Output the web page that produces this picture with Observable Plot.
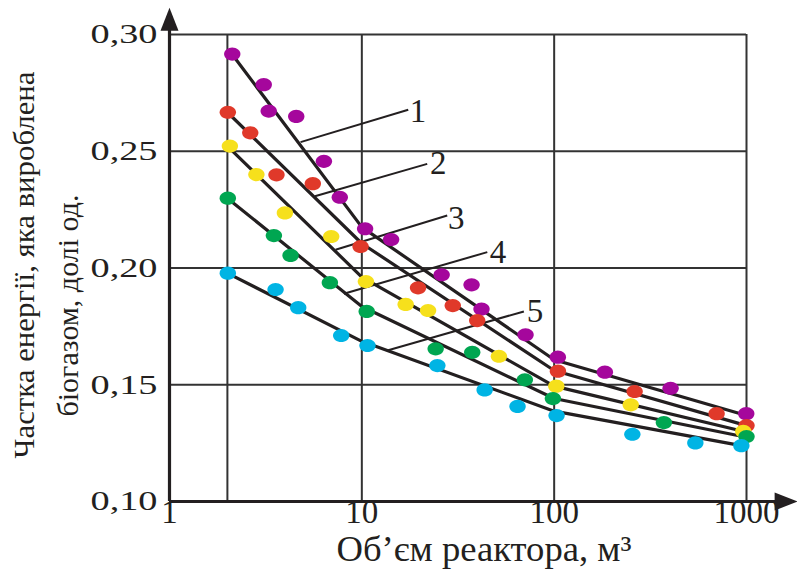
<!DOCTYPE html>
<html><head><meta charset="utf-8">
<script src="https://cdn.jsdelivr.net/npm/d3@7"></script>
<script src="https://cdn.jsdelivr.net/npm/@observablehq/plot@0.6"></script>
<style>body{margin:0;background:#fff}</style>
</head><body><div id="chart"></div>
<script>
// ---- data ----
const seriesNames = ["1","2","3","4","5"];
const seriesColors = ["#a5079c","#e0392a","#f6e01c","#00a651","#00b4e4"];

const s1x = [2.12,3.09,3.28,4.56,6.35,7.68,10.4,14.2,26.0,37.2,41.9,71.0,104.5,183.5,403,997];
const s1y = [0.2916,0.2785,0.2672,0.2649,0.2457,0.2303,0.2168,0.2122,0.1971,0.1928,0.1824,0.1714,0.1618,0.1554,0.1485,0.1376];
const s2x = [2.01,2.63,3.60,5.56,9.85,19.6,29.7,39.8,104.6,262,699,1000];
const s2y = [0.2667,0.2579,0.2399,0.2361,0.2092,0.1915,0.1839,0.1775,0.1558,0.1471,0.1376,0.1325];
const s3x = [2.06,2.83,3.98,6.93,10.5,16.9,22.1,51.6,102.6,250,962];
const s3y = [0.2522,0.2400,0.2236,0.2135,0.1942,0.1844,0.1818,0.1622,0.1494,0.1414,0.1300];
const s4x = [2.01,3.49,4.26,6.82,10.6,24.2,37.5,70.4,98.5,372,1000];
const s4y = [0.2299,0.2139,0.2054,0.1937,0.1814,0.1654,0.1639,0.1521,0.1441,0.1338,0.1278];
const s5x = [2.01,3.56,4.67,7.81,10.7,24.7,43.5,64.5,102.9,255,542,940];
const s5y = [0.1978,0.1908,0.1830,0.1711,0.1668,0.1582,0.1478,0.1407,0.1368,0.1288,0.1251,0.1239];

// fitted broken lines (vertices)
const f1x = [2.12,10,100,1000], f1y = [0.2914,0.2175,0.1607,0.1368];
const f2x = [2.0,10,100,1000],  f2y = [0.2667,0.2105,0.1561,0.1325];
const f3x = [2.0,10,100,970],   f3y = [0.2522,0.1961,0.1494,0.1300];
const f4x = [2.0,10,100,1000],  f4y = [0.2299,0.1835,0.1441,0.1275];
const f5x = [2.0,10,100,940],   f5y = [0.1978,0.1686,0.1387,0.1239];

// leader lines and curve labels
const leadX1 = [4.80,5.70,7.30,8.06,13.56], leadY1 = [0.2539,0.2307,0.2078,0.1890,0.1647];
const leadX2 = [17.43,21.88,27.8,44.9,69.6], leadY2 = [0.2678,0.2446,0.2225,0.2068,0.1814];
const labelX = [19.6,25.0,31.0,51.0,79.5],   labelY = [0.2670,0.2448,0.2212,0.2066,0.1814];

// axes
const xTicks = [1,10,100,1000];
const xTickLabels = ["1","10","100","1000"];
const xGrid = [2,10,100,1000];
const yTicks = [0.10,0.15,0.20,0.25,0.30];
const yTickLabels = ["0,10","0,15","0,20","0,25","0,30"];
const yGrid = [0.15,0.20,0.25,0.30];
const xTitle = "Об’єм реактора, м³";
const yTitle1 = "Частка енергії, яка вироблена";
const yTitle2 = "біогазом, долі од.";

// ---- build tables ----
const sx = [s1x,s2x,s3x,s4x,s5x], sy = [s1y,s2y,s3y,s4y,s5y];
const points = sx.flatMap((xs,i)=>xs.map((x,j)=>({x, y: sy[i][j], s: seriesNames[i]})));
const fx = [f1x,f2x,f3x,f4x,f5x], fy = [f1y,f2y,f3y,f4y,f5y];
const fits = fx.flatMap((xs,i)=>xs.map((x,j)=>({x, y: fy[i][j], s: seriesNames[i]})));
const leaders = seriesNames.map((s,i)=>({x1: leadX1[i], y1: leadY1[i], x2: leadX2[i], y2: leadY2[i]}));
const labels = seriesNames.map((s,i)=>({x: labelX[i], y: labelY[i], t: s}));

const ellipse = {draw(ctx){const a=8.2,b=6.6,k=0.5523;
  ctx.moveTo(a,0); ctx.bezierCurveTo(a,k*b,k*a,b,0,b); ctx.bezierCurveTo(-k*a,b,-a,k*b,-a,0);
  ctx.bezierCurveTo(-a,-k*b,-k*a,-b,0,-b); ctx.bezierCurveTo(k*a,-b,a,-k*b,a,0); ctx.closePath();}};
const arrowHead = {draw(ctx){ctx.moveTo(0,-14); ctx.lineTo(9,9); ctx.lineTo(-9,9); ctx.closePath();}};

const serif = "Liberation Serif, Times New Roman, serif";
const ink = "#231f20";

const plot = Plot.plot({
  width: 797, height: 578,
  marginLeft: 169, marginRight: 51, marginTop: 34, marginBottom: 77,
  style: {fontFamily: serif, background: "#fff"},
  x: {type: "log", domain: [1,1000], axis: null},
  y: {domain: [0.10,0.30], axis: null},
  color: {domain: seriesNames, range: seriesColors},
  marks: [
    Plot.ruleX(xGrid, {y1: 0.10, y2: 0.30, stroke: "#333", strokeWidth: 2}),
    Plot.ruleY(yGrid, {x1: 1, x2: 1000, stroke: "#333", strokeWidth: 2}),
    Plot.ruleX([1], {y1: 0.10, y2: 0.306, stroke: ink, strokeWidth: 3.2}),
    Plot.ruleY([0.10], {x1: 1, x2: 1560, stroke: ink, strokeWidth: 3.2}),
    Plot.dot([{x: 1, y: 0.3055}], {x: "x", y: "y", symbol: arrowHead, r: 10, fill: ink, stroke: "none"}),
    Plot.dot([{x: 1560, y: 0.10}], {x: "x", y: "y", symbol: arrowHead, r: 10, rotate: 90, fill: ink, stroke: "none"}),
    Plot.link(leaders, {x1: "x1", y1: "y1", x2: "x2", y2: "y2", stroke: ink, strokeWidth: 2}),
    Plot.line(fits, {x: "x", y: "y", z: "s", stroke: ink, strokeWidth: 3.2}),
    Plot.dot(points, {x: "x", y: "y", fill: "s", symbol: ellipse, r: 8, stroke: "none"}),
    Plot.text(labels, {x: "x", y: "y", text: "t", fontSize: 33, fill: ink}),
    Plot.text(xTicks, {x: d => d, text: (d,i) => xTickLabels[i], frameAnchor: "bottom", dy: 21, fontSize: 33, fill: ink}),
    Plot.text(yTicks, {y: d => d, text: (d,i) => yTickLabels[i], frameAnchor: "left", textAnchor: "end", dx: -12, fontSize: 28, fill: ink}),
    Plot.text([xTitle], {frameAnchor: "bottom", text: d => d, textAnchor: "start", dx: 336 - (169 + 746) / 2, dy: 59, fontSize: 35, fill: ink}),
    Plot.text([yTitle1], {frameAnchor: "left", text: d => d, rotate: -90, textAnchor: "start", dx: 24 - 169, dy: 458 - 267.5, fontSize: 29, fill: ink}),
    Plot.text([yTitle2], {frameAnchor: "left", text: d => d, rotate: -90, textAnchor: "start", dx: 68 - 169, dy: 416 - 267.5, fontSize: 29, fill: ink})
  ]
});
document.getElementById("chart").appendChild(plot);

// stretch/condense text runs to the reference's widths (the original face differs)
const lengths = new Map([[yTitle1, 387], [yTitle2, 222], [xTitle, 295]]);
yTickLabels.forEach(t => lengths.set(t, 67));
d3.select(plot).selectAll("text").each(function() {
  const len = lengths.get(this.textContent);
  if (len) d3.select(this).attr("textLength", len).attr("lengthAdjust", "spacingAndGlyphs");
});
</script>
</body></html>
